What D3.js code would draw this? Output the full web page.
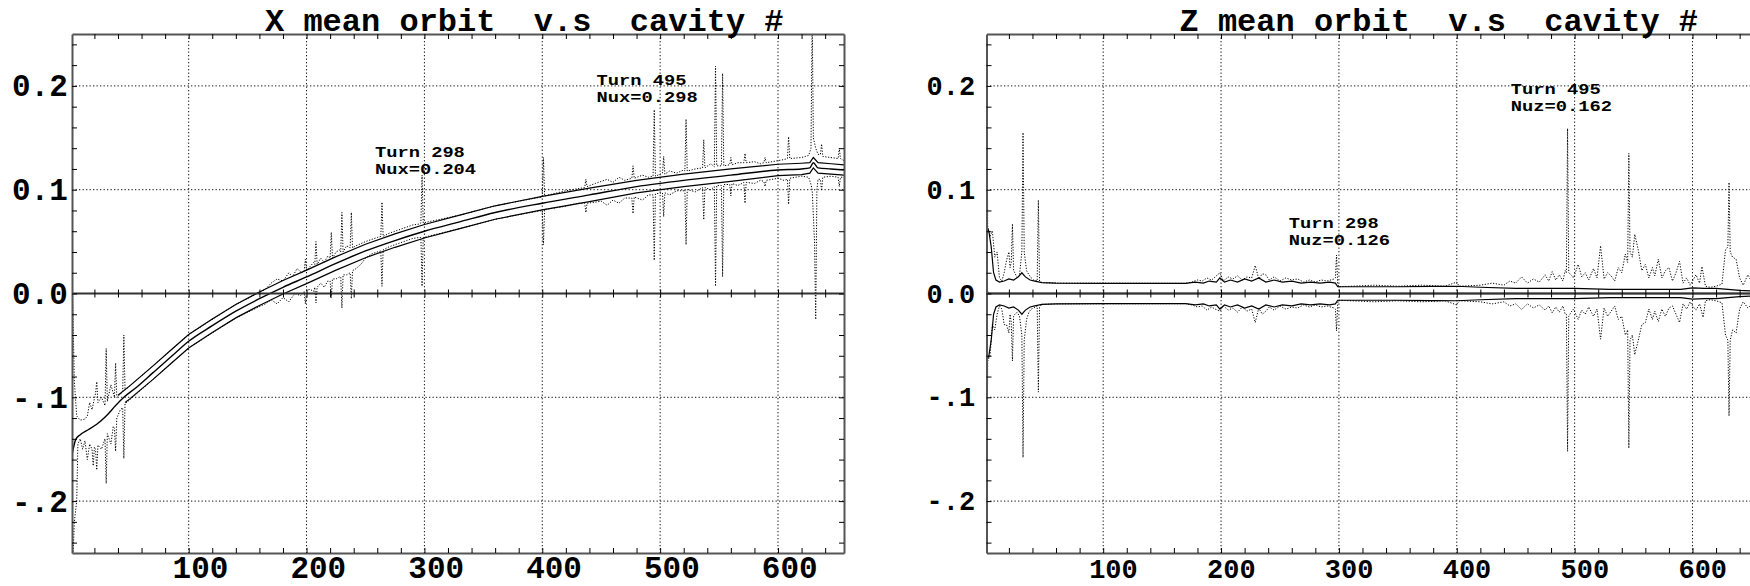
<!DOCTYPE html>
<html><head><meta charset="utf-8">
<script src="https://cdn.jsdelivr.net/npm/d3@7"></script>
<style>body{margin:0;background:#fff}svg{display:block}</style>
</head><body>
<svg id="chart" width="1750" height="586"></svg>
<script>
// ---------- DATA ----------
const xTickVals = [100, 200, 300, 400, 500, 600];
const xTickLabels = ["100", "200", "300", "400", "500", "600"];
const yTickVals = [0.2, 0.1, 0.0, -0.1, -0.2];
const yTickLabels = ["0.2", "0.1", "0.0", "-.1", "-.2"];
const cavityDomain = [1, 656];
const orbitDomain = [-0.25, 0.25];

const titleX = "X mean orbit  v.s  cavity #";
const titleZ = "Z mean orbit  v.s  cavity #";

// X panel: mean orbit (solid centre)
const xMean = [[1,-0.156],[2,-0.150],[4,-0.141],[8,-0.136],[15,-0.131],[22,-0.126],[30,-0.118],[38,-0.108],[45,-0.100],[55,-0.091],[70,-0.076],[85,-0.061],[100,-0.046],[120,-0.031],[140,-0.017],[160,-0.005],[180,0.006],[200,0.016],[225,0.029],[250,0.041],[275,0.051],[300,0.060],[330,0.069],[360,0.078],[400,0.087],[440,0.095],[480,0.103],[520,0.109],[560,0.114],[600,0.119],[620,0.120],[627,0.121],[630,0.126],[634,0.121],[645,0.120],[656,0.119]];
// X panel: upper / lower solid band
const xBandUp = [[40,-0.098],[50,-0.089],[70,-0.0695],[85,-0.0545],[100,-0.0395],[120,-0.0245],[140,-0.0105],[160,0.0015],[180,0.0125],[200,0.0225],[225,0.0355],[250,0.0475],[275,0.0575],[300,0.0665],[330,0.0755],[360,0.0845],[400,0.0935],[440,0.1015],[480,0.109],[520,0.115],[560,0.120],[600,0.1245],[620,0.1255],[627,0.126],[630,0.131],[634,0.126],[645,0.125],[656,0.124]];
const xBandLo = [[46,-0.105],[50,-0.1015],[70,-0.0825],[85,-0.0675],[100,-0.0525],[120,-0.0375],[140,-0.0235],[160,-0.0115],[180,-0.0005],[200,0.0095],[225,0.0225],[250,0.0345],[275,0.0445],[300,0.0535],[330,0.0625],[360,0.0715],[400,0.0805],[440,0.0885],[480,0.097],[520,0.103],[560,0.108],[600,0.1135],[620,0.1145],[627,0.116],[630,0.121],[634,0.116],[645,0.115],[656,0.114]];
// X panel: maximum (dotted)
const xMax = [[1,0.030],[2,-0.030],[3,-0.085],[5,-0.118],[8,-0.122],[12,-0.121],[14,-0.118],[16,-0.105],[18,-0.112],[21,-0.096],[22,-0.085],[23,-0.105],[26,-0.100],[29,-0.108],[30,-0.053],[31,-0.104],[34,-0.088],[37,-0.100],[38,-0.067],[39,-0.100],[42,-0.097],[44,-0.095],[45,-0.040],[46,-0.093],[50,-0.089],[70,-0.0695],[100,-0.0395],[140,-0.0105],[165,0.004],[170,0.010],[175,0.014],[180,0.012],[185,0.020],[188,0.016],[192,0.024],[196,0.020],[198,0.022],[199,0.033],[200,0.022],[203,0.026],[206,0.030],[207,0.028],[208,0.050],[209,0.028],[212,0.034],[215,0.030],[218,0.036],[220,0.034],[221,0.059],[222,0.034],[225,0.040],[228,0.042],[229,0.040],[230,0.078],[231,0.040],[234,0.046],[237,0.044],[238,0.078],[239,0.044],[242,0.046],[246,0.048],[250,0.050],[255,0.052],[260,0.054],[263,0.055],[264,0.088],[265,0.055],[270,0.058],[275,0.060],[280,0.062],[285,0.064],[290,0.066],[296,0.067],[297,0.068],[298,0.114],[299,0.068],[330,0.0755],[360,0.0845],[385,0.090],[400,0.093],[401,0.131],[402,0.094],[420,0.099],[430,0.101],[436,0.102],[437,0.110],[438,0.103],[445,0.106],[450,0.108],[455,0.110],[460,0.107],[465,0.112],[470,0.109],[476,0.111],[477,0.123],[478,0.111],[485,0.114],[490,0.112],[494,0.113],[495,0.177],[496,0.113],[502,0.116],[503,0.132],[504,0.115],[508,0.118],[514,0.116],[520,0.119],[521,0.118],[522,0.168],[523,0.118],[530,0.120],[536,0.121],[537,0.148],[538,0.121],[543,0.125],[546,0.122],[547,0.219],[548,0.123],[552,0.123],[553,0.212],[554,0.123],[559,0.124],[560,0.131],[561,0.124],[566,0.126],[571,0.126],[572,0.135],[573,0.126],[580,0.127],[585,0.125],[588,0.126],[589,0.131],[590,0.126],[600,0.128],[605,0.129],[608,0.130],[609,0.151],[610,0.130],[620,0.131],[626,0.133],[628,0.140],[629,0.270],[630,0.150],[632,0.140],[634,0.134],[636,0.134],[637,0.144],[638,0.132],[645,0.131],[651,0.130],[652,0.140],[653,0.130],[656,0.128]];
// X panel: minimum (dotted)
const xMin = [[1,-0.300],[2,-0.250],[3,-0.220],[5,-0.200],[6,-0.145],[8,-0.140],[10,-0.150],[12,-0.142],[14,-0.160],[16,-0.145],[18,-0.150],[19,-0.166],[20,-0.148],[21,-0.150],[22,-0.170],[23,-0.146],[26,-0.150],[29,-0.140],[30,-0.183],[31,-0.135],[34,-0.145],[36,-0.128],[37,-0.130],[38,-0.152],[39,-0.120],[42,-0.112],[44,-0.110],[45,-0.159],[46,-0.106],[50,-0.1025],[70,-0.0825],[100,-0.0525],[140,-0.0235],[165,-0.010],[170,-0.006],[175,-0.010],[180,-0.004],[185,-0.008],[190,0.000],[195,-0.002],[198,0.002],[199,-0.010],[200,0.003],[203,0.004],[206,0.002],[207,0.006],[208,-0.009],[209,0.006],[212,0.010],[215,0.006],[218,0.012],[220,0.012],[221,-0.004],[222,0.014],[225,0.014],[228,0.016],[229,0.016],[230,-0.014],[231,0.018],[234,0.018],[237,0.020],[238,-0.005],[239,0.022],[242,0.024],[246,0.028],[250,0.034],[255,0.038],[260,0.040],[263,0.041],[264,0.007],[265,0.042],[270,0.045],[275,0.047],[280,0.049],[285,0.051],[290,0.053],[296,0.054],[297,0.054],[298,0.007],[299,0.054],[330,0.0625],[360,0.0715],[385,0.077],[400,0.080],[401,0.047],[402,0.081],[420,0.084],[430,0.087],[436,0.087],[437,0.078],[438,0.087],[445,0.088],[450,0.089],[455,0.085],[460,0.090],[465,0.087],[470,0.092],[476,0.092],[477,0.077],[478,0.093],[485,0.090],[490,0.095],[494,0.095],[495,0.032],[496,0.096],[502,0.097],[503,0.074],[504,0.097],[508,0.095],[514,0.099],[520,0.099],[521,0.100],[522,0.047],[523,0.100],[530,0.098],[536,0.102],[537,0.071],[538,0.102],[543,0.100],[546,0.103],[547,0.007],[548,0.104],[552,0.104],[553,0.016],[554,0.105],[559,0.105],[560,0.094],[561,0.106],[566,0.104],[571,0.107],[572,0.087],[573,0.107],[580,0.106],[585,0.109],[588,0.108],[589,0.103],[590,0.109],[600,0.111],[605,0.109],[608,0.110],[609,0.086],[610,0.111],[620,0.113],[626,0.112],[628,0.105],[629,0.100],[631,0.050],[632,-0.025],[633,0.100],[634,0.110],[636,0.110],[637,0.099],[638,0.112],[645,0.113],[651,0.112],[652,0.103],[653,0.112],[656,0.112]];

// Z panel
const zMean = [[1,0.004],[3,0.000],[656,0.000]];
const zBandUp = [[1,0.065],[3,0.060],[5,0.045],[7,0.020],[9,0.013],[12,0.011],[16,0.012],[20,0.014],[24,0.013],[28,0.016],[31,0.020],[34,0.016],[38,0.013],[42,0.012],[48,0.0105],[60,0.0100],[100,0.0097],[140,0.0097],[170,0.0098],[178,0.011],[185,0.010],[190,0.012],[196,0.011],[199,0.015],[203,0.011],[208,0.013],[214,0.011],[220,0.014],[226,0.012],[232,0.015],[238,0.011],[245,0.013],[252,0.011],[260,0.012],[268,0.010],[276,0.011],[284,0.010],[292,0.011],[297,0.010],[299,0.0065],[320,0.0065],[350,0.0065],[380,0.0068],[400,0.0070],[420,0.0060],[450,0.0050],[480,0.0050],[500,0.0050],[530,0.0040],[560,0.0040],[590,0.0040],[600,0.0055],[610,0.0050],[620,0.0050],[630,0.0040],[640,0.0030],[656,0.0020]];
const zBandLo = [[1,-0.065],[3,-0.060],[5,-0.045],[7,-0.020],[9,-0.013],[12,-0.011],[16,-0.012],[20,-0.014],[24,-0.013],[28,-0.016],[31,-0.020],[34,-0.016],[38,-0.013],[42,-0.012],[48,-0.0105],[60,-0.0100],[100,-0.0097],[140,-0.0097],[170,-0.0098],[178,-0.011],[185,-0.010],[190,-0.012],[196,-0.011],[199,-0.015],[203,-0.011],[208,-0.013],[214,-0.011],[220,-0.014],[226,-0.012],[232,-0.015],[238,-0.011],[245,-0.013],[252,-0.011],[260,-0.012],[268,-0.010],[276,-0.011],[284,-0.010],[292,-0.011],[297,-0.010],[299,-0.0065],[320,-0.0065],[350,-0.0065],[380,-0.0068],[400,-0.0070],[420,-0.0060],[450,-0.0050],[480,-0.0050],[500,-0.0050],[530,-0.0040],[560,-0.0040],[590,-0.0040],[600,-0.0055],[610,-0.0050],[620,-0.0050],[630,-0.0040],[640,-0.0030],[656,-0.0020]];
const zMax = [[1,0.300],[2,0.065],[4,0.055],[6,0.060],[8,0.035],[10,0.040],[12,0.015],[14,0.012],[16,0.020],[18,0.032],[20,0.040],[21,0.025],[22,0.030],[23,0.067],[24,0.022],[25,0.020],[27,0.015],[29,0.018],[31,0.040],[32,0.155],[33,0.040],[35,0.022],[37,0.018],[39,0.015],[41,0.013],[44,0.012],[45,0.090],[46,0.012],[48,0.0105],[60,0.0100],[170,0.0098],[175,0.011],[180,0.013],[184,0.012],[188,0.015],[192,0.013],[195,0.016],[199,0.020],[202,0.012],[206,0.016],[210,0.014],[214,0.017],[218,0.013],[222,0.016],[226,0.015],[229,0.027],[232,0.014],[235,0.019],[238,0.018],[241,0.013],[245,0.016],[250,0.012],[255,0.015],[260,0.013],[265,0.014],[270,0.011],[275,0.013],[280,0.011],[285,0.013],[290,0.012],[296,0.014],[297,0.015],[298,0.037],[299,0.009],[300,0.0065],[330,0.008],[350,0.007],[370,0.008],[390,0.007],[400,0.011],[402,0.007],[420,0.008],[430,0.010],[440,0.008],[445,0.012],[450,0.010],[455,0.016],[460,0.010],[465,0.014],[470,0.011],[475,0.018],[478,0.012],[481,0.021],[484,0.013],[487,0.018],[490,0.012],[492,0.022],[493,0.020],[494,0.159],[495,0.020],[497,0.018],[499,0.015],[503,0.028],[506,0.016],[509,0.020],[512,0.013],[516,0.024],[519,0.015],[522,0.046],[525,0.014],[528,0.020],[531,0.017],[534,0.012],[537,0.025],[540,0.020],[543,0.038],[545,0.030],[546,0.135],[547,0.040],[549,0.035],[551,0.057],[554,0.042],[557,0.022],[560,0.028],[563,0.015],[566,0.025],[568,0.017],[571,0.033],[574,0.015],[577,0.022],[580,0.025],[583,0.012],[586,0.020],[589,0.031],[592,0.010],[595,0.015],[598,0.008],[600,0.012],[603,0.018],[606,0.010],[608,0.026],[611,0.007],[615,0.006],[620,0.007],[625,0.009],[628,0.042],[630,0.045],[631,0.107],[632,0.040],[634,0.035],[637,0.033],[640,0.015],[643,0.008],[647,0.018],[651,0.010],[656,0.015]];
const zMin = [[1,-0.300],[2,-0.065],[4,-0.060],[6,-0.030],[8,-0.035],[10,-0.020],[12,-0.012],[14,-0.015],[16,-0.030],[18,-0.030],[20,-0.038],[21,-0.020],[22,-0.028],[23,-0.065],[24,-0.022],[25,-0.020],[27,-0.018],[29,-0.022],[31,-0.040],[32,-0.158],[33,-0.045],[35,-0.025],[37,-0.018],[39,-0.015],[41,-0.014],[44,-0.012],[45,-0.095],[46,-0.013],[48,-0.0105],[60,-0.0100],[170,-0.0098],[175,-0.011],[180,-0.013],[184,-0.012],[188,-0.016],[192,-0.013],[195,-0.015],[199,-0.017],[202,-0.012],[206,-0.016],[210,-0.014],[214,-0.018],[218,-0.013],[222,-0.017],[226,-0.015],[229,-0.028],[232,-0.014],[235,-0.020],[238,-0.017],[241,-0.013],[245,-0.016],[250,-0.012],[255,-0.015],[260,-0.013],[265,-0.014],[270,-0.011],[275,-0.013],[280,-0.011],[285,-0.013],[290,-0.012],[296,-0.014],[297,-0.015],[298,-0.036],[299,-0.009],[300,-0.0065],[330,-0.008],[350,-0.007],[370,-0.008],[390,-0.007],[400,-0.011],[402,-0.007],[420,-0.008],[430,-0.010],[440,-0.008],[445,-0.012],[450,-0.010],[455,-0.0154],[460,-0.010],[465,-0.014],[470,-0.011],[475,-0.016],[478,-0.012],[481,-0.0186],[484,-0.013],[487,-0.018],[490,-0.012],[492,-0.020],[493,-0.020],[494,-0.152],[495,-0.022],[497,-0.018],[499,-0.015],[503,-0.025],[506,-0.016],[509,-0.020],[512,-0.013],[516,-0.022],[519,-0.015],[522,-0.044],[525,-0.014],[528,-0.022],[531,-0.017],[534,-0.012],[537,-0.025],[540,-0.022],[543,-0.040],[545,-0.035],[546,-0.149],[547,-0.045],[549,-0.040],[551,-0.059],[554,-0.045],[557,-0.030],[560,-0.028],[563,-0.015],[566,-0.025],[568,-0.017],[571,-0.027],[574,-0.015],[577,-0.022],[580,-0.014],[583,-0.012],[586,-0.020],[589,-0.028],[592,-0.010],[595,-0.015],[598,-0.008],[600,-0.012],[603,-0.016],[606,-0.010],[609,-0.023],[611,-0.007],[615,-0.006],[620,-0.007],[625,-0.009],[628,-0.040],[630,-0.045],[631,-0.118],[632,-0.045],[634,-0.035],[637,-0.038],[640,-0.015],[643,-0.008],[647,-0.014],[651,-0.010],[656,-0.015]];

// annotations: [cavity, orbit, line1, line2]
const xNotes = [[258, 0.130, "Turn 298", "Nux=0.204"], [446, 0.199, "Turn 495", "Nux=0.298"]];
const zNotes = [[257.5, 0.0617, "Turn 298", "Nuz=0.126"], [445.8, 0.190, "Turn 495", "Nuz=0.162"]];

// ---------- DRAW ----------
const svg = d3.select("#chart");
const FONT = "'Liberation Mono', 'DejaVu Sans Mono', monospace";
const TOP = 34, BOTTOM = 553, W = 772;

function panel(id, x0, title, bandUp, bandLo, mean, mx, mn, notes, labelSize) {
  const x = d3.scaleLinear().domain(cavityDomain).range([x0, x0 + W]);
  const y = d3.scaleLinear().domain(orbitDomain).range([BOTTOM, TOP]);
  const g = svg.append("g");

  g.append("clipPath").attr("id", "clip" + id).append("rect")
    .attr("x", x0).attr("y", TOP).attr("width", W).attr("height", BOTTOM - TOP);

  // grid
  g.selectAll(".vg").data(xTickVals).join("line")
    .attr("x1", d => x(d)).attr("x2", d => x(d)).attr("y1", TOP).attr("y2", BOTTOM)
    .attr("stroke", "#111").attr("stroke-width", 1).attr("stroke-dasharray", "1.3,2.2");
  g.selectAll(".hg").data(yTickVals.filter(v => v !== 0)).join("line")
    .attr("x1", x0).attr("x2", x0 + W).attr("y1", d => y(d)).attr("y2", d => y(d))
    .attr("stroke", "#111").attr("stroke-width", 1).attr("stroke-dasharray", "1.3,2.2");

  // data
  const plot = g.append("g").attr("clip-path", `url(#clip${id})`);
  const line = d3.line().x(d => x(d[0])).y(d => y(d[1]));
  const smooth = d3.line().x(d => x(d[0])).y(d => y(d[1])).curve(d3.curveMonotoneX);
  [mx, mn].forEach(s => plot.append("path").attr("d", line(s)).attr("fill", "none")
    .attr("stroke", "#000").attr("stroke-width", 1).attr("stroke-dasharray", "1.2,1.6"));
  [bandUp, bandLo].forEach(s => plot.append("path").attr("d", line(s)).attr("fill", "none")
    .attr("stroke", "#000").attr("stroke-width", 1.2));
  plot.append("path").attr("d", smooth(mean)).attr("fill", "none")
    .attr("stroke", "#000").attr("stroke-width", 1.4);

  // zero line
  g.append("line").attr("x1", x0).attr("x2", x0 + W).attr("y1", y(0)).attr("y2", y(0))
    .attr("stroke", "#333").attr("stroke-width", 2);

  // axes / ticks (inward)
  const xMinor = d3.range(20, 656, 20);
  const yMinor = d3.range(-0.24, 0.2401, 0.02).map(v => +v.toFixed(2));
  const styleAxis = a => { a.selectAll("path").attr("stroke", "#555").attr("stroke-width", 2);
    a.selectAll("line").attr("stroke", "#000").attr("stroke-width", 1); a.selectAll("text").remove(); };
  g.append("g").attr("transform", `translate(0,${BOTTOM})`)
    .call(d3.axisTop(x).tickValues(xMinor).tickSize(5).tickSizeOuter(0)).call(styleAxis);
  g.append("g").attr("transform", `translate(0,${TOP})`)
    .call(d3.axisBottom(x).tickValues(xMinor).tickSize(5).tickSizeOuter(0)).call(styleAxis);
  g.append("g").attr("transform", `translate(${x0},0)`)
    .call(d3.axisRight(y).tickValues(yMinor).tickSize(5).tickSizeOuter(0)).call(styleAxis);
  g.append("g").attr("transform", `translate(${x0 + W},0)`)
    .call(d3.axisLeft(y).tickValues(yMinor).tickSize(5).tickSizeOuter(0)).call(styleAxis);
  [d3.axisTop, d3.axisBottom].forEach(ax => g.append("g").attr("transform", `translate(0,${y(0)})`)
    .call(ax(x).tickValues(xMinor).tickSize(4).tickSizeOuter(0))
    .call(a => { a.select("path").remove(); a.selectAll("line").attr("stroke", "#000"); a.selectAll("text").remove(); }));

  // tick labels
  g.selectAll(".xl").data(xTickVals).join("text")
    .attr("x", d => x(d) + labelSize * 0.38).attr("y", 578).attr("text-anchor", "middle")
    .attr("font-family", FONT).attr("font-weight", "bold").attr("font-size", labelSize)
    .attr("fill", "#000").text((d, i) => xTickLabels[i]);
  g.selectAll(".yl").data(yTickVals).join("text")
    .attr("x", x0 - 60).attr("y", d => y(d) + labelSize * 0.34).attr("text-anchor", "start")
    .attr("font-family", FONT).attr("font-weight", "bold").attr("font-size", labelSize)
    .attr("fill", "#000").text((d, i) => yTickLabels[i]);

  // title
  g.append("text").attr("x", x0 + 193).attr("y", 30.5)
    .attr("font-family", FONT).attr("font-weight", "bold").attr("font-size", 32)
    .style("white-space", "pre").attr("fill", "#000").text(title);

  // annotations: two stacked lines, compact font widened horizontally
  notes.forEach(n => {
    [n[2], n[3]].forEach((t, i) => g.append("text")
      .attr("transform", `translate(${x(n[0])},${y(n[1]) - 1.8 + i * 17}) scale(1.25,1)`)
      .attr("font-family", FONT).attr("font-weight", "bold").attr("font-size", 15)
      .attr("fill", "#000").text(t));
  });
}

panel("X", 72, titleX, xBandUp, xBandLo, xMean, xMax, xMin, xNotes, 31);
panel("Z", 986.5, titleZ, zBandUp, zBandLo, zMean, zMax, zMin, zNotes, 27);
</script>
</body></html>
